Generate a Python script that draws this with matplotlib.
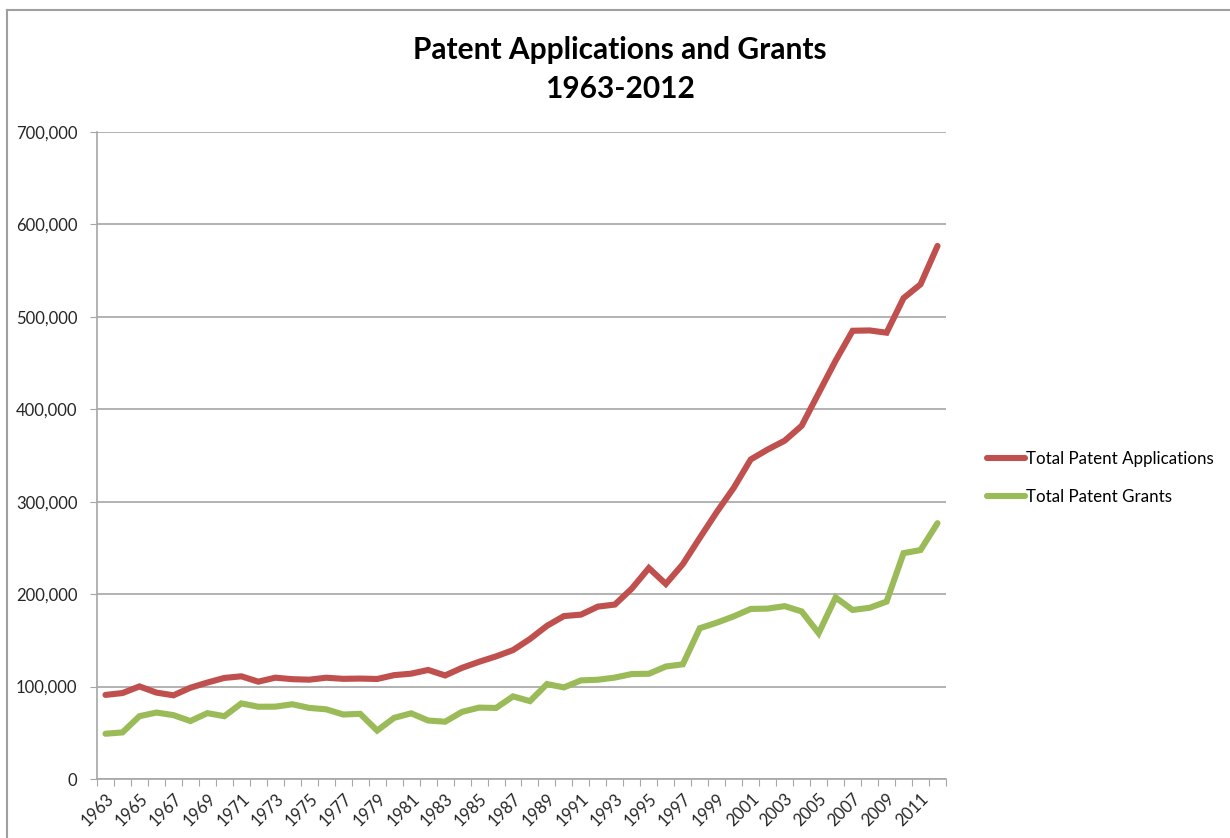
import numpy as np
import matplotlib.pyplot as plt
from matplotlib.lines import Line2D
from matplotlib.ticker import FuncFormatter

plt.rcParams['font.family'] = ['Lato', 'DejaVu Sans']

years = list(range(1963, 2013))
applications = [
    90982, 92971, 100150, 93482, 90544, 98737, 104357, 109359, 111095, 105300,
    109622, 108011, 107456, 109580, 108377, 108648, 108209, 112379, 113966, 117987,
    112040, 120276, 126788, 132665, 139455, 151491, 165748, 176264, 177830, 186507,
    188739, 206090, 228238, 211013, 232424, 260889, 288811, 315015, 345732, 356493,
    366043, 382139, 417453, 452633, 484955, 485312, 482871, 520277, 535188, 576763,
]
grants = [
    48971, 50389, 67962, 71886, 69098, 62714, 71230, 67964, 81790, 78185,
    78268, 80876, 76908, 75396, 69781, 70514, 52413, 66170, 71064, 63276,
    61982, 72650, 77245, 76862, 89385, 84272, 102712, 99077, 106696, 107394,
    109746, 113587, 113834, 121696, 124069, 163142, 169094, 175983, 183970, 184375,
    187015, 181299, 157718, 196405, 182899, 185224, 191927, 244341, 247713, 276788,
]

red = '#C0504D'
green = '#9BBB59'
grid = '#A6A6A6'

fig = plt.figure(figsize=(12.3, 8.38), dpi=100)
ax = fig.add_axes([97/1230, 59/838, 849/1230, 647/838])

x = np.arange(len(years))
ax.plot(x, applications, color=red, lw=4.4, solid_capstyle='round',
        solid_joinstyle='miter', label='Total Patent Applications')
ax.plot(x, grants, color=green, lw=4.4, solid_capstyle='round',
        solid_joinstyle='miter', label='Total Patent Grants')

ax.set_xlim(-0.5, len(years) - 0.5)
ax.set_ylim(0, 700000)
ax.set_yticks(np.arange(0, 700001, 100000))
ax.yaxis.set_major_formatter(FuncFormatter(lambda v, p: f'{int(v):,}'))
ax.yaxis.grid(True, color=grid, lw=1.2)
ax.set_axisbelow(True)

# category boundaries as ticks, labels on every other year
ax.set_xticks(np.arange(-0.5, len(years), 1.0))
ax.set_xticklabels([])
ax.set_xticks(x[::2], minor=True)
ax.set_xticklabels([str(y) for y in years[::2]], minor=True, rotation=45,
                   ha='right', va='top', rotation_mode='anchor')
ax.tick_params(axis='x', which='minor', length=0, pad=8, labelsize=12, labelcolor='#262626')
ax.tick_params(axis='x', which='major', length=5, color=grid, direction='out')
ax.tick_params(axis='y', length=5, color=grid, labelsize=12, labelcolor='#262626', pad=9)

for s in ['top', 'right']:
    ax.spines[s].set_visible(False)
for s in ['left', 'bottom']:
    ax.spines[s].set_color(grid)
    ax.spines[s].set_linewidth(1.2)

fig.text(620/1230, 1 - 50/838, 'Patent Applications and Grants', ha='center', va='center',
         fontsize=21.5, fontweight='bold', color='black')
fig.text(620/1230, 1 - 89/838, '1963-2012', ha='center', va='center',
         fontsize=21.5, fontweight='bold', color='black')

fig.legend(loc='center left', bbox_to_anchor=(972/1230, 1 - 478/838), frameon=False,
           handlelength=2.25, handletextpad=0.05, labelspacing=1.25, fontsize=12.2)

# outer chart frame
fig.add_artist(Line2D([7/1230, 7/1230], [0, 1 - 10/838], color='#A0A0A0', lw=1.5))
fig.add_artist(Line2D([7/1230, 1], [1 - 10/838, 1 - 10/838], color='#A0A0A0', lw=1.5))

fig.savefig('out.png', dpi=100, facecolor='white')
